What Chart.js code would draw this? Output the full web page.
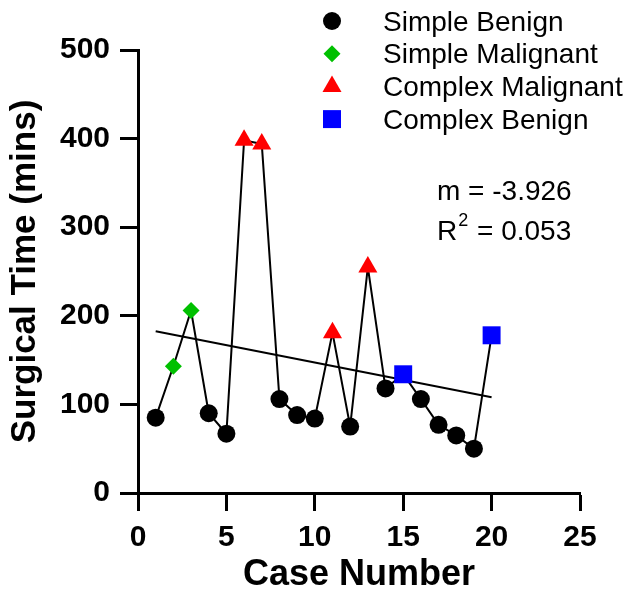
<!DOCTYPE html>
<html>
<head>
<meta charset="utf-8">
<script src="https://cdn.jsdelivr.net/npm/chart.js@4.4.1/dist/chart.umd.min.js"></script>
<style>
  html, body { margin: 0; padding: 0; background: #ffffff; }
  #wrap { width: 632px; height: 593px; }
</style>
</head>
<body>
<div id="wrap"><canvas id="chartCanvas" width="632" height="593"></canvas></div>
<script>
/* =========================
   Data
========================= */
const caseNumbers = [1, 2, 3, 4, 5, 6, 7, 8, 9, 10, 11, 12, 13, 14, 15, 16, 17, 18, 19, 20];
const surgicalTimes = [85, 143, 206, 90, 67, 398, 394, 106, 88, 84, 181, 75, 255, 118, 134, 106, 77, 65, 50, 178];
const caseGroups = [
  "Simple Benign", "Simple Malignant", "Simple Malignant", "Simple Benign", "Simple Benign",
  "Complex Malignant", "Complex Malignant", "Simple Benign", "Simple Benign", "Simple Benign",
  "Complex Malignant", "Simple Benign", "Complex Malignant", "Simple Benign", "Complex Benign",
  "Simple Benign", "Simple Benign", "Simple Benign", "Simple Benign", "Complex Benign"
];
const groupNames = ["Simple Benign", "Simple Malignant", "Complex Malignant", "Complex Benign"];
const fitX = [1, 20];
const fitY = [182.5, 108];
const xTicks = [0, 5, 10, 15, 20, 25];
const yTicks = [0, 100, 200, 300, 400, 500];
const slopeLabel = "m = -3.926";
const r2Label = "0.053";

const FONT = "'Liberation Sans', Arial, sans-serif";

const groupStyles = {
  "Simple Benign":     { color: "#000000", pointStyle: "circle",   radius: 9 },
  "Simple Malignant":  { color: "#00c000", pointStyle: "rectRot",  radius: 8.5 },
  "Complex Malignant": { color: "#ff0000", pointStyle: "triangle", radius: 11 },
  "Complex Benign":    { color: "#0000ff", pointStyle: "rect",     radius: 12.7 }
};

/* =========================
   Legend + fit stats (drawn over the plot, top right)
========================= */
const overlayPlugin = {
  id: "overlay",
  afterDraw: (chart) => {
    const ctx = chart.ctx;
    ctx.save();

    groupNames.forEach((name, i) => {
      const st = groupStyles[name];
      const y = 21 + i * 32.7;
      ctx.fillStyle = st.color;
      ctx.strokeStyle = st.color;
      Chart.helpers.drawPoint(ctx, {
        pointStyle: st.pointStyle, radius: st.radius, rotation: 0, borderWidth: 0
      }, 332, y);
      ctx.fillStyle = "#000";
      ctx.font = "28px " + FONT;
      ctx.textAlign = "left";
      ctx.textBaseline = "alphabetic";
      ctx.fillText(name, 383, y + 9.5);
    });

    ctx.fillStyle = "#000";
    ctx.font = "28px " + FONT;
    ctx.fillText(slopeLabel, 437, 200);
    ctx.fillText("R", 437, 240);
    const rw = ctx.measureText("R").width;
    ctx.font = "18px " + FONT;
    ctx.fillText("2", 437 + rw + 1, 226);
    const sw = ctx.measureText("2").width;
    ctx.font = "28px " + FONT;
    ctx.fillText(" = " + r2Label, 437 + rw + sw + 2, 240);
    ctx.restore();
  }
};

/* =========================
   Datasets
========================= */
const allPoints = caseNumbers.map((x, i) => ({ x: x, y: surgicalTimes[i] }));

const groupDatasets = groupNames.map(name => {
  const st = groupStyles[name];
  return {
    type: "scatter",
    label: name,
    data: allPoints.filter((p, i) => caseGroups[i] === name),
    pointStyle: st.pointStyle,
    pointRadius: st.radius,
    pointBackgroundColor: st.color,
    pointBorderColor: st.color,
    pointBorderWidth: 0,
    showLine: false,
    clip: false,
    order: 0
  };
});

const datasets = [
  {
    type: "line",
    label: "series",
    data: allPoints,
    borderColor: "#000000",
    borderWidth: 2,
    pointRadius: 0,
    tension: 0,
    order: 10
  },
  {
    type: "line",
    label: "fit",
    data: fitX.map((x, i) => ({ x: x, y: fitY[i] })),
    borderColor: "#000000",
    borderWidth: 2,
    pointRadius: 0,
    order: 5
  },
  ...groupDatasets
];

/* =========================
   Axis look shared by x and y
========================= */
const axisGrid = {
  drawOnChartArea: false,
  drawTicks: true,
  tickLength: 18,
  tickWidth: 3,
  tickColor: "#000"
};
const tickFont = { family: FONT, size: 30, weight: "bold" };
const titleFont = { family: FONT, size: 35, weight: "bold", lineHeight: 1 };

/* =========================
   Chart
========================= */
const ctx = document.getElementById("chartCanvas").getContext("2d");

new Chart(ctx, {
  type: "scatter",
  data: { datasets: datasets },
  options: {
    responsive: false,
    animation: false,
    layout: { padding: { top: 50, right: 52, left: 0, bottom: 0 } },
    plugins: {
      legend: { display: false },
      tooltip: { enabled: false }
    },
    scales: {
      x: {
        type: "linear",
        min: 0,
        max: 25,
        afterBuildTicks: s => { s.ticks = xTicks.map(v => ({ value: v })); },
        afterFit: s => { s.height = 100; },
        grid: axisGrid,
        border: { display: true, width: 3, color: "#000" },
        ticks: { color: "#000", padding: 9, maxRotation: 0, font: tickFont },
        title: {
          display: true,
          text: "Case Number",
          color: "#000",
          padding: { top: 0, bottom: 0 },
          font: { ...titleFont, size: 36 }
        }
      },
      y: {
        type: "linear",
        min: 0,
        max: 500,
        afterBuildTicks: s => { s.ticks = yTicks.map(v => ({ value: v })); },
        afterFit: s => { s.width = 138; },
        grid: axisGrid,
        border: { display: true, width: 3, color: "#000" },
        ticks: { color: "#000", padding: 10, font: tickFont },
        title: {
          display: true,
          text: "Surgical Time (mins)",
          color: "#000",
          padding: { top: 8, bottom: 0 },
          font: titleFont
        }
      }
    }
  },
  plugins: [overlayPlugin]
});
</script>
</body>
</html>
